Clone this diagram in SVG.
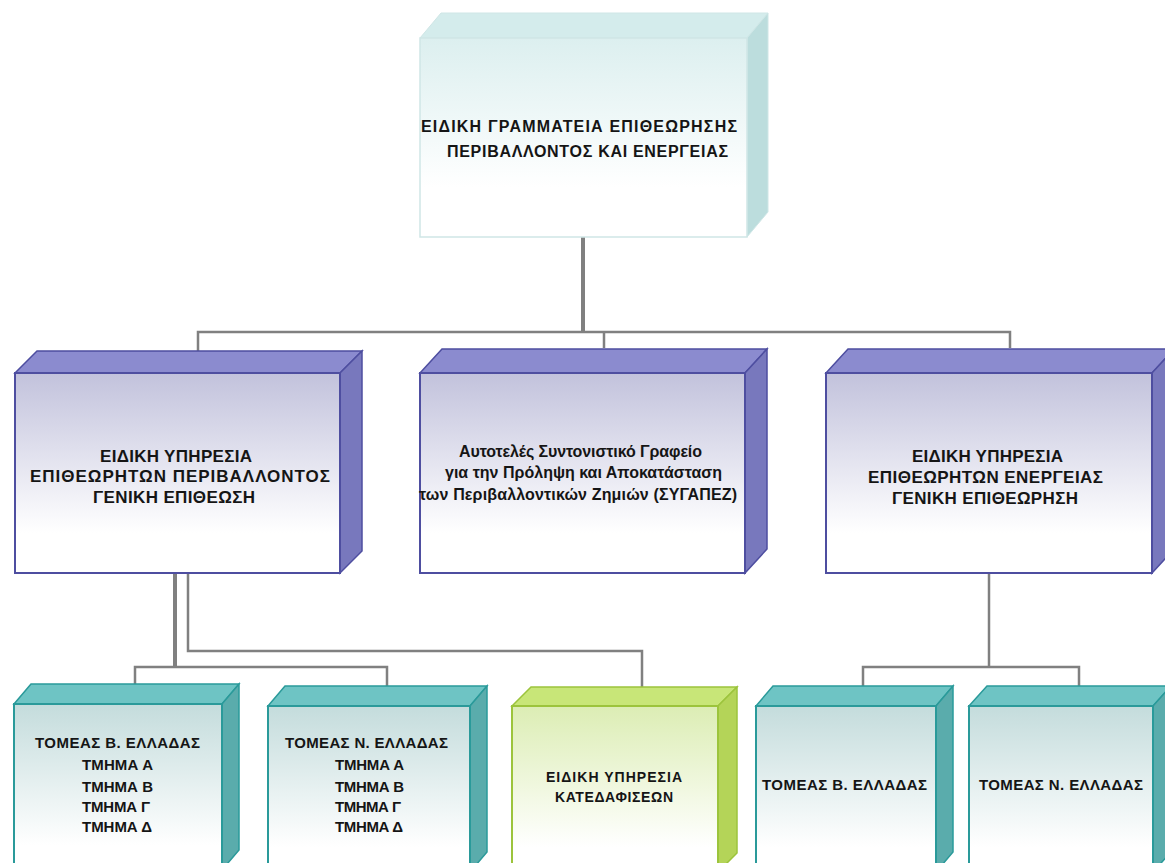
<svg xmlns="http://www.w3.org/2000/svg" width="1165" height="863" viewBox="0 0 1165 863">
<style>
text{font-family:"Liberation Sans",Arial,sans-serif;font-weight:bold;fill:#151515}
.t15{font-size:16px}.t16{font-size:17px}.t14{font-size:15px}.t13{font-size:14px}.tl{font-size:16px}
.conn{fill:none;stroke:#808080;stroke-width:2.5;stroke-linejoin:miter}
.thick{stroke-width:4}
.cyan .fr{fill:url(#gCyan);stroke:#cfe6e6;stroke-width:1.5}
.cyan .tp{fill:#d4ecec;stroke:#cfe6e6;stroke-width:1}
.cyan .sd{fill:#bcdddd;stroke:#cfe6e6;stroke-width:1}
.pur .fr{fill:url(#gPur);stroke:#4e4ea0;stroke-width:2}
.pur .tp{fill:#8b8bcf;stroke:#4e4ea0;stroke-width:1.5}
.pur .sd{fill:#7878bd;stroke:#4e4ea0;stroke-width:1.5}
.teal .fr{fill:url(#gTeal);stroke:#2a9a9a;stroke-width:2}
.teal .tp{fill:#6ec4c4;stroke:#2a9a9a;stroke-width:1.5}
.teal .sd{fill:#5aacac;stroke:#2a9a9a;stroke-width:1.5}
.grn .fr{fill:url(#gGrn);stroke:#9cc43c;stroke-width:2}
.grn .tp{fill:#c8e678;stroke:#9cc43c;stroke-width:1.5}
.grn .sd{fill:#b4d458;stroke:#9cc43c;stroke-width:1.5}
</style>
<defs>
<linearGradient id="gCyan" x1="0" y1="0" x2="0" y2="1"><stop offset="0" stop-color="#dcefef"/><stop offset="0.75" stop-color="#ffffff"/></linearGradient>
<linearGradient id="gPur" x1="0" y1="0" x2="0" y2="1"><stop offset="0" stop-color="#c2c2dc"/><stop offset="0.8" stop-color="#ffffff"/></linearGradient>
<linearGradient id="gTeal" x1="0" y1="0" x2="0" y2="1"><stop offset="0" stop-color="#c4dcdc"/><stop offset="0.85" stop-color="#ffffff"/></linearGradient>
<linearGradient id="gGrn" x1="0" y1="0" x2="0" y2="1"><stop offset="0" stop-color="#dcedb4"/><stop offset="0.85" stop-color="#ffffff"/></linearGradient>
</defs>
<rect width="1165" height="863" fill="#ffffff"/>

<g id="connectors">
<path class="conn thick" d="M583 237V332"/>
<path class="conn" d="M198 351V332H1010V348M604 332V348"/>
<path class="conn thick" d="M175 573V667"/>
<path class="conn" d="M135 684V667H387V686"/>
<path class="conn" d="M188 573V651H642V687"/>
<path class="conn" d="M989 573V667"/>
<path class="conn" d="M863 686V667H1079V686"/>
</g>

<g id="n-top" class="cyan">
<polygon class="tp" points="420,38 441,13 768,13 747,38"/>
<polygon class="sd" points="747,38 768,13 768,212 747,237"/>
<rect class="fr" x="420" y="38" width="327" height="199"/>
<text class="t15" x="421" y="132" textLength="316" lengthAdjust="spacing">ΕΙΔΙΚΗ ΓΡΑΜΜΑΤΕΙΑ ΕΠΙΘΕΩΡΗΣΗΣ</text>
<text class="t15" x="447" y="157" textLength="281" lengthAdjust="spacing">ΠΕΡΙΒΑΛΛΟΝΤΟΣ ΚΑΙ ΕΝΕΡΓΕΙΑΣ</text>
</g>

<g id="n-env" class="pur">
<polygon class="tp" points="15,373 37,351 362,351 340,373"/>
<polygon class="sd" points="340,373 362,351 362,551 340,573"/>
<rect class="fr" x="15" y="373" width="325" height="200"/>
<text class="t16" x="100" y="462" textLength="152" lengthAdjust="spacing">ΕΙΔΙΚΗ ΥΠΗΡΕΣΙΑ</text>
<text class="t16" x="30" y="482" textLength="300" lengthAdjust="spacing">ΕΠΙΘΕΩΡΗΤΩΝ ΠΕΡΙΒΑΛΛΟΝΤΟΣ</text>
<text class="t16" x="93" y="503" textLength="162" lengthAdjust="spacing">ΓΕΝΙΚΗ ΕΠΙΘΕΩΣΗ</text>
</g>

<g id="n-sygapez" class="pur">
<polygon class="tp" points="420,373 442,349 767,349 745,373"/>
<polygon class="sd" points="745,373 767,349 767,549 745,573"/>
<rect class="fr" x="420" y="373" width="325" height="200"/>
<text class="tl" x="459" y="457" textLength="243" lengthAdjust="spacing">Αυτοτελές Συντονιστικό Γραφείο</text>
<text class="tl" x="445" y="478" textLength="277" lengthAdjust="spacing">για την Πρόληψη και Αποκατάσταση</text>
<text class="tl" x="419" y="500" textLength="318" lengthAdjust="spacing">των Περιβαλλοντικών Ζημιών (ΣΥΓΑΠΕΖ)</text>
</g>

<g id="n-energy" class="pur">
<polygon class="tp" points="826,373 848,349 1174,349 1152,373"/>
<polygon class="sd" points="1152,373 1174,349 1174,549 1152,573"/>
<rect class="fr" x="826" y="373" width="326" height="200"/>
<text class="t16" x="912" y="462" textLength="151" lengthAdjust="spacing">ΕΙΔΙΚΗ ΥΠΗΡΕΣΙΑ</text>
<text class="t16" x="868" y="483" textLength="235" lengthAdjust="spacing">ΕΠΙΘΕΩΡΗΤΩΝ ΕΝΕΡΓΕΙΑΣ</text>
<text class="t16" x="892" y="504" textLength="186" lengthAdjust="spacing">ΓΕΝΙΚΗ ΕΠΙΘΕΩΡΗΣΗ</text>
</g>

<g id="n-env-north" class="teal">
<polygon class="tp" points="14,704 31,684 239,684 222,704"/>
<polygon class="sd" points="222,704 239,684 239,850 222,870"/>
<rect class="fr" x="14" y="704" width="208" height="166"/>
<text class="t14" x="35" y="748" textLength="165" lengthAdjust="spacing">ΤΟΜΕΑΣ Β. ΕΛΛΑΔΑΣ</text>
<text class="t14" x="82" y="770" textLength="71" lengthAdjust="spacing">ΤΜΗΜΑ Α</text>
<text class="t14" x="82" y="792" textLength="71" lengthAdjust="spacing">ΤΜΗΜΑ Β</text>
<text class="t14" x="82" y="812" textLength="68" lengthAdjust="spacing">ΤΜΗΜΑ Γ</text>
<text class="t14" x="82" y="832" textLength="70" lengthAdjust="spacing">ΤΜΗΜΑ Δ</text>
</g>

<g id="n-env-south" class="teal">
<polygon class="tp" points="268,706 285,686 487,686 470,706"/>
<polygon class="sd" points="470,706 487,686 487,852 470,872"/>
<rect class="fr" x="268" y="706" width="202" height="166"/>
<text class="t14" x="285" y="748" textLength="163" lengthAdjust="spacing">ΤΟΜΕΑΣ Ν. ΕΛΛΑΔΑΣ</text>
<text class="t14" x="335" y="770" textLength="69" lengthAdjust="spacing">ΤΜΗΜΑ Α</text>
<text class="t14" x="335" y="792" textLength="69" lengthAdjust="spacing">ΤΜΗΜΑ Β</text>
<text class="t14" x="335" y="812" textLength="66" lengthAdjust="spacing">ΤΜΗΜΑ Γ</text>
<text class="t14" x="335" y="832" textLength="68" lengthAdjust="spacing">ΤΜΗΜΑ Δ</text>
</g>

<g id="n-demolition" class="grn">
<polygon class="tp" points="512,706 531,687 737,687 718,706"/>
<polygon class="sd" points="718,706 737,687 737,853 718,872"/>
<rect class="fr" x="512" y="706" width="206" height="166"/>
<text class="t13" x="546" y="782" textLength="136" lengthAdjust="spacing">ΕΙΔΙΚΗ ΥΠΗΡΕΣΙΑ</text>
<text class="t13" x="555" y="802" textLength="118" lengthAdjust="spacing">ΚΑΤΕΔΑΦΙΣΕΩΝ</text>
</g>

<g id="n-en-north" class="teal">
<polygon class="tp" points="756,706 773,686 953,686 936,706"/>
<polygon class="sd" points="936,706 953,686 953,852 936,872"/>
<rect class="fr" x="756" y="706" width="180" height="166"/>
<text class="t14" x="762" y="790" textLength="165" lengthAdjust="spacing">ΤΟΜΕΑΣ Β. ΕΛΛΑΔΑΣ</text>
</g>

<g id="n-en-south" class="teal">
<polygon class="tp" points="969,706 987,686 1171,686 1153,706"/>
<polygon class="sd" points="1153,706 1171,686 1171,852 1153,872"/>
<rect class="fr" x="969" y="706" width="184" height="166"/>
<text class="t14" x="979" y="790" textLength="164" lengthAdjust="spacing">ΤΟΜΕΑΣ Ν. ΕΛΛΑΔΑΣ</text>
</g>
</svg>
